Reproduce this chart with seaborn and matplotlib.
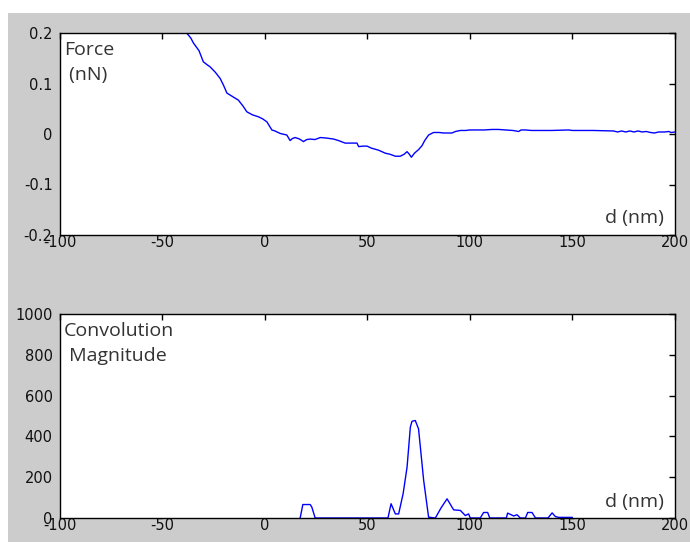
import numpy as np
import pandas as pd
import matplotlib
matplotlib.use("Agg")
import matplotlib.pyplot as plt
import seaborn as sns
from matplotlib.patches import Rectangle

# ---------------- data ----------------
force_d = [-38, -36, -34.7, -32, -29.9, -28, -26.6, -24, -21.7, -20, -18.4, -16,
           -12.8, -10.5, -8.7, -6, -3.0, -1, 1.1, 3.5, 5, 7.6, 10.8, 12.4, 13.5,
           14.9, 17, 18.9, 20.5, 22.2, 24.5, 27.1, 30, 33.6, 36, 39.2, 42, 45.0,
           45.8, 48, 49.9, 52, 55.5, 58.8, 61, 63.7, 66.1, 68, 69.4, 70.5, 71.5,
           73, 75, 76.7, 78, 79.9, 82.3, 85, 87.2, 91.3, 93, 95.4, 98, 100, 104.3,
           107, 110.8, 114, 117.3, 121, 123.8, 125, 127.1, 130, 140, 148, 150, 160,
           170, 172, 174, 176, 178, 180, 182, 184, 186, 188, 190, 192, 195, 197,
           198, 200]
force_nN = [0.200, 0.190, 0.180, 0.165, 0.143, 0.137, 0.133, 0.122, 0.110, 0.096,
            0.081, 0.075, 0.067, 0.055, 0.044, 0.038, 0.034, 0.030, 0.024, 0.008,
            0.006, 0.001, -0.002, -0.013, -0.009, -0.007, -0.010, -0.015, -0.011,
            -0.010, -0.011, -0.007, -0.008, -0.010, -0.013, -0.018, -0.018, -0.018,
            -0.025, -0.024, -0.024, -0.028, -0.032, -0.038, -0.040, -0.044, -0.044,
            -0.040, -0.035, -0.040, -0.046, -0.038, -0.031, -0.023, -0.013, -0.002,
            0.003, 0.003, 0.002, 0.002, 0.005, 0.007, 0.007, 0.008, 0.008, 0.008,
            0.009, 0.009, 0.008, 0.007, 0.005, 0.008, 0.008, 0.007, 0.007, 0.008,
            0.007, 0.007, 0.006, 0.004, 0.006, 0.004, 0.006, 0.004, 0.006, 0.004,
            0.005, 0.003, 0.002, 0.004, 0.004, 0.005, 0.003, 0.004]

conv_d = [17.3, 18.6, 22.2, 23.0, 24.6, 60.1, 61.6, 63.7, 65.3, 67.5, 69.4, 71.0,
          71.8, 73.4, 75.0, 77.5, 79.9, 83.2, 86.0, 88.9, 92.1, 95.4, 97.8, 99.4,
          100.2, 105.1, 106.7, 108.7, 109.7, 117.8, 118.4, 121.4, 123.0, 124.6,
          127.1, 128.2, 130.3, 132.0, 138.1, 140.1, 141.7, 143.3, 150.0]
conv_mag = [0, 66, 66, 53, 0, 0, 70, 20, 20, 120, 249, 445, 474, 478, 437, 184, 4,
            0, 50, 94, 40, 37, 12, 20, 0, 0, 27, 27, 0, 0, 24, 10, 16, 0, 0, 27,
            27, 0, 0, 25, 7, 3, 3]

xticks = [-100, -50, 0, 50, 100, 150, 200]
yticks_force = [-0.2, -0.1, 0, 0.1, 0.2]
yticks_conv = [0, 200, 400, 600, 800, 1000]

# ---------------- figure ----------------
sns.set_theme(style="white")
plt.rcParams["font.family"] = ["DejaVu Sans"]

W, H = 690, 542
fig = plt.figure(figsize=(W / 100, H / 100), dpi=100, facecolor="white")
fig.patches.append(Rectangle((8 / W, 0), 1 - 8 / W, 1 - 13 / H,
                             transform=fig.transFigure, facecolor="#cccccc",
                             edgecolor="none", zorder=-10))

left = 59.5 / W
width = (675 - 59.5) / W
ax1 = fig.add_axes([left, (H - 235) / H, width, 202 / H])
ax2 = fig.add_axes([left, (H - 518) / H, width, 204 / H])

df1 = pd.DataFrame({"d": force_d, "F": force_nN})
df2 = pd.DataFrame({"d": conv_d, "M": conv_mag})
sns.lineplot(data=df1, x="d", y="F", ax=ax1, color="#0000ff", lw=1.0,
             estimator=None, sort=False)
sns.lineplot(data=df2, x="d", y="M", ax=ax2, color="#0000ff", lw=1.0,
             estimator=None, sort=False)

annot_font = ["Open Sans", "DejaVu Sans"]
for ax, yt, ylim, lab, dy in [(ax1, yticks_force, (-0.2, 0.2), "Force\n (nN)", 0.04),
                              (ax2, yticks_conv, (0, 1000), "Convolution\n Magnitude", 0.035)]:
    ax.set_facecolor("white")
    ax.set_xlim(-100, 200)
    ax.set_ylim(*ylim)
    ax.set_xticks(xticks)
    ax.set_xticklabels([str(v) for v in xticks])
    ax.set_yticks(yt)
    ax.set_yticklabels([("%g" % v) for v in yt])
    ax.set_xlabel("")
    ax.set_ylabel("")
    for s in ax.spines.values():
        s.set_visible(True)
        s.set_color("black")
        s.set_linewidth(1.0)
        s.set_zorder(5)
    ax.tick_params(axis="both", which="both", direction="in", length=4.5,
                   width=1, color="black", top=True, right=True,
                   labelsize=10.5, labelcolor="#111111")
    ax.tick_params(axis="x", pad=0)
    ax.tick_params(axis="y", pad=5)
    ax.text(0.007, 0.96, lab, transform=ax.transAxes, ha="left", va="top",
            fontsize=14, color="#333333", family=annot_font, linespacing=1.5)
    ax.text(0.982, dy, "d (nm)", transform=ax.transAxes, ha="right",
            va="bottom", fontsize=14, color="#333333", family=annot_font)
    ax.grid(False)

fig.savefig("out.png", dpi=100, facecolor=fig.get_facecolor())
